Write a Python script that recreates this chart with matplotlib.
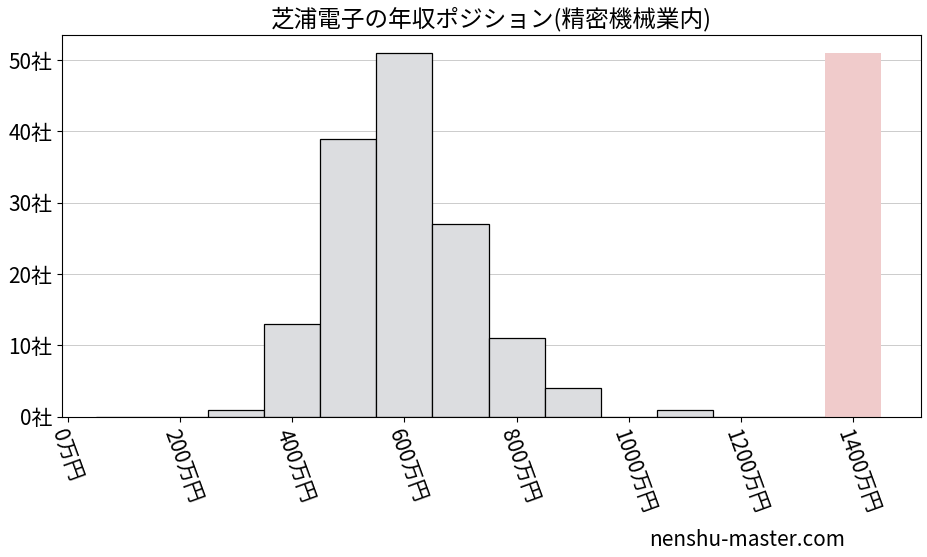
import numpy as np
import matplotlib
matplotlib.use('Agg')
import matplotlib.pyplot as plt

plt.rcParams['font.family'] = ['Noto Sans CJK JP', 'DejaVu Sans']

bin_left = [0, 100, 200, 300, 400, 500, 600, 700, 800, 900, 1000, 1100, 1200]
counts = [0, 0, 1, 13, 39, 51, 27, 11, 4, 0, 1, 0, 0]
bin_width = 100
bin_offset = 250 - 200  # bins start at 250
highlight_x = 1400
highlight_h = 51

fig, ax = plt.subplots(figsize=(9.27, 5.57), dpi=100)
lefts = np.array(bin_left) + bin_offset
ax.bar(lefts, counts, width=bin_width, align='edge', color='#dcdde0',
       edgecolor='black', linewidth=0.9, zorder=2)
ax.bar(highlight_x, highlight_h, width=bin_width, color='#f0cbcb', zorder=1)

ax.set_xlim(-10, 1520)
ax.set_ylim(0, 53.5)
xt = np.arange(0, 1401, 200)
ax.set_xticks(xt)
ax.set_xticklabels([f'{v}万円' for v in xt], rotation=-70, ha='left',
                   rotation_mode='anchor', fontsize=15)
yt = np.arange(0, 51, 10)
ax.set_yticks(yt)
ax.set_yticklabels([f'{v}社' for v in yt], fontsize=15)
ax.yaxis.grid(True, color='#cccccc', linewidth=0.7, zorder=0)
ax.set_axisbelow(True)
ax.set_title('芝浦電子の年収ポジション(精密機械業内)', fontsize=17)
fig.text(0.70, 0.02, 'nenshu-master.com', fontsize=15)

plt.subplots_adjust(left=0.067, right=0.993, top=0.937, bottom=0.252)
plt.savefig('out.png', dpi=100)
